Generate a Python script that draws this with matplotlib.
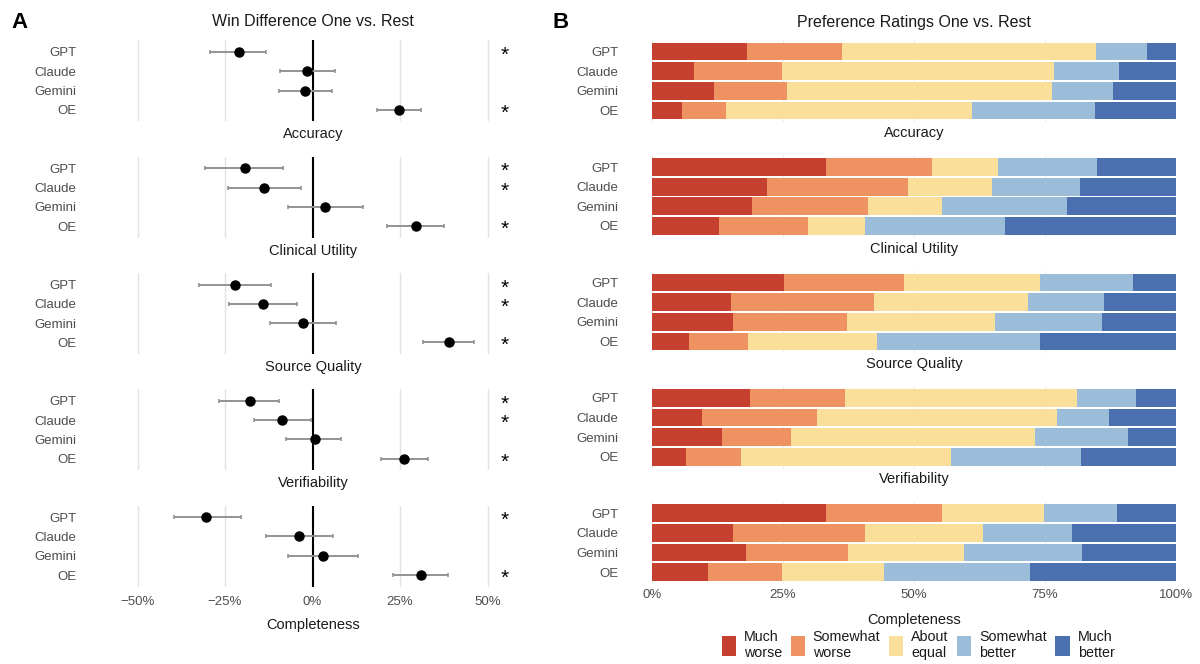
import numpy as np
import matplotlib
matplotlib.use("Agg")
import matplotlib.pyplot as plt
from matplotlib.patches import Patch

plt.rcParams['font.family'] = ['Liberation Sans', 'DejaVu Sans']

# data
models = ["GPT", "Claude", "Gemini", "OE"]
criteria = ["Accuracy", "Clinical Utility", "Source Quality", "Verifiability", "Completeness"]

# win difference (%) one vs rest, with CI
win_est = [[-21.0, -1.6, -2.2, 24.7],
           [-19.4, -13.8, 3.5, 29.7],
           [-22.1, -14.2, -2.8, 38.9],
           [-18.0, -8.7, 0.6, 26.2],
           [-30.3, -3.8, 3.0, 31.0]]
win_lo = [[-29.2, -9.4, -9.7, 18.3],
          [-30.8, -24.1, -7.1, 21.4],
          [-32.5, -23.9, -12.2, 31.7],
          [-26.6, -16.6, -7.5, 19.5],
          [-39.7, -13.3, -7.0, 23.0]]
win_hi = [[-13.4, 6.5, 5.5, 31.0],
          [-8.5, -3.3, 14.3, 37.6],
          [-12.0, -4.4, 6.6, 46.1],
          [-9.7, -0.5, 8.2, 32.9],
          [-20.5, 5.9, 13.0, 38.6]]
signif = [[1, 0, 0, 1],
          [1, 1, 0, 1],
          [1, 1, 0, 1],
          [1, 1, 0, 1],
          [1, 0, 0, 1]]
win_ticks = [-50, -25, 0, 25, 50]
win_tick_labels = ["\u221250%", "\u221225%", "0%", "25%", "50%"]

# preference ratings (%), columns: much worse ... much better
rating_levels = ["Much\nworse", "Somewhat\nworse", "About\nequal", "Somewhat\nbetter", "Much\nbetter"]
ratings_accuracy = [[18.2, 18.0, 48.6, 9.7, 5.5],
                    [8.1, 16.7, 52.0, 12.4, 10.8],
                    [11.9, 13.9, 50.5, 11.7, 12.0],
                    [5.8, 8.4, 46.9, 23.5, 15.4]]
ratings_clinical = [[33.3, 20.1, 12.7, 18.9, 15.0],
                    [21.9, 27.0, 16.0, 16.7, 18.4],
                    [19.0, 22.2, 14.1, 23.9, 20.8],
                    [12.8, 16.9, 10.9, 26.8, 32.6]]
ratings_source = [[25.2, 22.9, 26.0, 17.6, 8.3],
                  [15.0, 27.3, 29.5, 14.5, 13.7],
                  [15.4, 21.9, 28.2, 20.4, 14.1],
                  [7.0, 11.4, 24.5, 31.2, 25.9]]
ratings_verif = [[18.7, 18.2, 44.3, 11.2, 7.6],
                 [9.5, 21.9, 45.9, 10.0, 12.7],
                 [13.3, 13.3, 46.4, 17.8, 9.2],
                 [6.4, 10.5, 40.1, 24.8, 18.2]]
ratings_complete = [[33.2, 22.2, 19.5, 13.9, 11.2],
                    [15.5, 25.1, 22.6, 16.9, 19.9],
                    [17.9, 19.5, 22.1, 22.6, 17.9],
                    [10.6, 14.2, 19.5, 27.9, 27.8]]
all_ratings = [ratings_accuracy, ratings_clinical, ratings_source, ratings_verif, ratings_complete]
pct_ticks = [0, 25, 50, 75, 100]
pct_tick_labels = ["0%", "25%", "50%", "75%", "100%"]

colors = ["#C5402F", "#EE9262", "#F9DF9A", "#9CBDDA", "#4B70AF"]

W, H = 1200, 664
fig = plt.figure(figsize=(12, 6.64), dpi=100)

def px_box(x0, y0, w, h):
    return [x0 / W, 1 - (y0 + h) / H, w / W, h / H]

def fig_text(x, y, s, **kw):
    fig.text(x / W, 1 - y / H, s, ha='center', va='center', **kw)

label_gray = "#4D4D4D"
ypos = np.arange(1, 5)

# panel A
for i, crit in enumerate(criteria):
    top = 40.4 + 116.3 * i
    ax = fig.add_axes(px_box(92, top, 441, 81))
    ax.set_xlim(-63, 63)
    ax.set_ylim(4.6, 0.4)
    for g in [-50, -25, 25, 50]:
        ax.axvline(g, color="#E2E2E2", lw=1.0, zorder=0)
    ax.axvline(0, color="black", lw=1.5, zorder=1)
    est = np.array(win_est[i])
    lo = np.array(win_lo[i])
    hi = np.array(win_hi[i])
    ax.errorbar(est, ypos, xerr=[est - lo, hi - est], fmt='o', color='black', ms=6.5,
                ecolor="#939393", elinewidth=1.4, capsize=1.6, capthick=1.2, zorder=3)
    for j, s in enumerate(signif[i]):
        if s:
            ax.text(55, ypos[j] + 0.17, "*", ha='center', va='center', fontsize=15, color='black')
    ax.set_yticks(ypos)
    ax.set_yticklabels(models, fontsize=9.5, color=label_gray)
    ax.set_xticks(win_ticks)
    if i == len(criteria) - 1:
        ax.set_xticklabels(win_tick_labels, fontsize=9.5, color=label_gray)
        fig_text(313, 625, crit, fontsize=10.5, color="#1A1A1A")
    else:
        ax.set_xticklabels([])
        fig_text(313, top + 81 + 13, crit, fontsize=10.5, color="#1A1A1A")
    ax.tick_params(length=0)
    ax.tick_params(axis='y', pad=11)
    ax.tick_params(axis='x', pad=7)
    for sp in ax.spines.values():
        sp.set_visible(False)

# panel B
for i, crit in enumerate(criteria):
    top = 39.9 + 115.4 * i
    ax = fig.add_axes(px_box(652, top, 524, 82.4))
    ax.set_xlim(0, 100)
    ax.set_ylim(4.6, 0.4)
    for g in pct_ticks:
        ax.axvline(g, color="#EDEDED", lw=0.8, zorder=0)
    vals = np.array(all_ratings[i])
    left = np.zeros(len(models))
    for k in range(len(rating_levels)):
        ax.barh(ypos, vals[:, k], left=left, height=0.9, color=colors[k], lw=0, zorder=2)
        left += vals[:, k]
    ax.set_yticks(ypos)
    ax.set_yticklabels(models, fontsize=9.5, color=label_gray)
    ax.set_xticks(pct_ticks)
    if i == len(criteria) - 1:
        ax.set_xticklabels(pct_tick_labels, fontsize=9.5, color=label_gray)
        fig_text(914, 620, crit, fontsize=10.5, color="#1A1A1A")
    else:
        ax.set_xticklabels([])
        fig_text(914, top + 82.4 + 11, crit, fontsize=10.5, color="#1A1A1A")
    ax.tick_params(length=0)
    ax.tick_params(axis='y', pad=24)
    ax.tick_params(axis='x', pad=4)
    for sp in ax.spines.values():
        sp.set_visible(False)

handles = [Patch(facecolor=c, edgecolor='none') for c in colors]
fig.legend(handles, rating_levels, loc='center', bbox_to_anchor=(918 / W, 1 - 645 / H), ncol=5,
           frameon=False, fontsize=10.3, handlelength=1.0, handleheight=1.8,
           handletextpad=0.55, columnspacing=0.6, labelcolor="#1A1A1A",
           borderaxespad=0, borderpad=0)

fig_text(313, 22, "Win Difference One vs. Rest", fontsize=11.5, color="#1A1A1A")
fig_text(914, 22, "Preference Ratings One vs. Rest", fontsize=11.5, color="#1A1A1A")
fig_text(19, 22, "A", fontsize=16, fontweight='bold', color='black')
fig_text(561, 22, "B", fontsize=16, fontweight='bold', color='black')

fig.savefig("out.png", dpi=100, facecolor='white')
